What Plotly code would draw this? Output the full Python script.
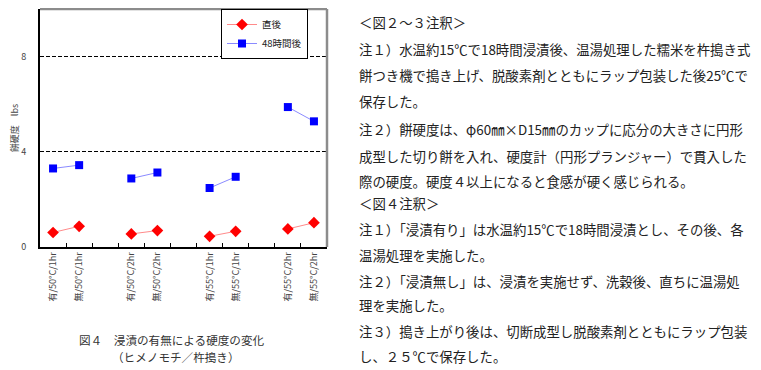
import plotly.graph_objects as go

# ---- data ----
conditions = ["有/50°C/1hr", "無/50°C/1hr",
              "有/50°C/2hr", "無/50°C/2hr",
              "有/55°C/1hr", "無/55°C/1hr",
              "有/55°C/2hr", "無/55°C/2hr"]
chokugo = [0.61, 0.87, 0.55, 0.69, 0.45, 0.66, 0.76, 1.02]      # 直後
after48 = [3.30, 3.44, 2.88, 3.13, 2.48, 2.95, 5.88, 5.28]      # 48時間後
series_names = ["直後", "48時間後"]
y_ticks = [0, 4, 8]
y_title = "餅硬度　lbs"
caption1 = "図４　浸漬の有無による硬度の変化"
caption2 = "（ヒメノモチ／杵搗き）"
notes = [
    "＜図２～３注釈＞",
    "注１）水温約15℃で18時間浸漬後、温湯処理した糯米を杵搗き式",
    "餅つき機で搗き上げ、脱酸素剤とともにラップ包装した後25℃で",
    "保存した。",
    "注２）餅硬度は、φ60㎜×D15㎜のカップに応分の大きさに円形",
    "成型した切り餅を入れ、硬度計（円形プランジャー）で貫入した",
    "際の硬度。硬度４以上になると食感が硬く感じられる。",
    "＜図４注釈＞",
    "注１）「浸漬有り」は水温約15℃で18時間浸漬とし、その後、各",
    "温湯処理を実施した。",
    "注２）「浸漬無し」は、浸漬を実施せず、洗穀後、直ちに温湯処",
    "理を実施した。",
    "注３）搗き上がり後は、切断成型し脱酸素剤とともにラップ包装",
    "し、２５℃で保存した。",
]
note_y = [22, 49, 75, 101, 129, 156, 181, 203, 229, 255, 281, 305, 331, 356]

# build category list with blank gap slots between pairs
cats, v1, v2 = [], [], []
for i in range(0, len(conditions), 2):
    cats += conditions[i:i + 2]
    v1 += chokugo[i:i + 2]
    v2 += after48[i:i + 2]
    if i + 2 < len(conditions):
        cats.append(" " * (i // 2 + 1))
        v1.append(None)
        v2.append(None)

OFF = 8  # page body margin
W, H = 761 - OFF, 370 - OFF
L, R, T, B = 40 - OFF, 327 - OFF, 8.5 - OFF, 247 - OFF

fig = go.Figure()
fig.add_trace(go.Scatter(
    x=cats, y=v1, name=series_names[0], mode="lines+markers",
    line=dict(color="rgba(255,60,60,0.6)", width=1),
    marker=dict(symbol="diamond", size=9, color="#ff0000"),
    connectgaps=False))
fig.add_trace(go.Scatter(
    x=cats, y=v2, name=series_names[1], mode="lines+markers",
    line=dict(color="rgba(60,60,255,0.6)", width=1),
    marker=dict(symbol="square", size=8, color="#0000ff"),
    connectgaps=False))

fig.update_layout(
    width=W, height=H,
    margin=dict(l=L, r=W - R, t=T, b=H - B, autoexpand=False),
    paper_bgcolor="white", plot_bgcolor="white",
    font=dict(family="Noto Sans CJK JP", size=9, color="#444"),
    showlegend=True,
    legend=dict(x=(308 - OFF - L) / (R - L), xanchor="right", y=1.0, yanchor="top",
                bgcolor="white", bordercolor="black", borderwidth=1,
                font=dict(size=9.5, color="#222"), itemwidth=30,
                tracegroupgap=0),
    xaxis=dict(type="category", categoryorder="array", categoryarray=cats,
               range=[-0.5, len(cats) - 0.5], automargin=False,
               tickson="boundaries", ticks="inside", ticklen=4,
               tickcolor="black", tickwidth=1,
               tickangle=-90, tickfont=dict(size=9, color="#444"),
               showline=True, linecolor="black", linewidth=1.5,
               showgrid=False, zeroline=False, fixedrange=True),
    yaxis=dict(range=[0, 10], tickvals=y_ticks, ticks="", automargin=False,
               ticklabelstandoff=10,
               tickfont=dict(size=9, color="#444"),
               showgrid=True, gridcolor="black", gridwidth=1,
               griddash="4px,2px",
               showline=True, linecolor="black", linewidth=2,
               zeroline=False,
               title=dict(text=y_title, font=dict(size=9, color="#444"),
                          standoff=14)),
)

# gray top and right frame
fig.add_shape(type="line", xref="paper", yref="paper", x0=0, x1=1, y0=1, y1=1,
              line=dict(color="#8c8c8c", width=2.5))
fig.add_shape(type="line", xref="paper", yref="paper", x0=1, x1=1, y0=0, y1=1,
              line=dict(color="#8c8c8c", width=2.5))

def px_x(x):
    return (x - OFF - L) / (R - L)

def px_y(y):
    return (B - (y - OFF)) / (B - T)

fig.add_annotation(text=caption1, xref="paper", yref="paper",
                   x=px_x(77), y=px_y(340), xanchor="left", yanchor="middle",
                   showarrow=False, font=dict(size=11.6, color="#333"))
fig.add_annotation(text=caption2, xref="paper", yref="paper",
                   x=px_x(110), y=px_y(357), xanchor="left", yanchor="middle",
                   showarrow=False, font=dict(size=11.6, color="#333"))

for txt, yy in zip(notes, note_y):
    fig.add_annotation(text=txt, xref="paper", yref="paper",
                       x=px_x(357), y=px_y(yy), xanchor="left", yanchor="middle",
                       showarrow=False,
                       font=dict(size=13.4, color="#222",
                                 family="Noto Sans CJK JP"))

fig.write_html("out.html")
